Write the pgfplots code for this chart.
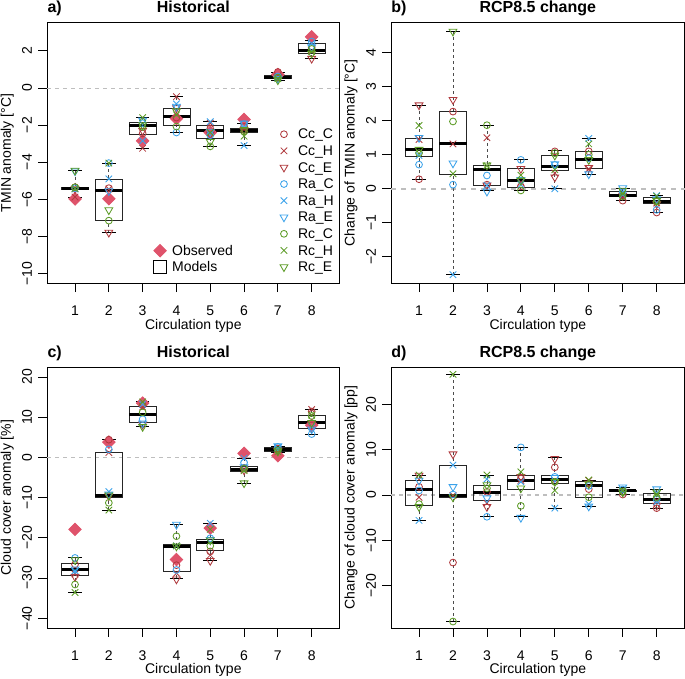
\documentclass[border=0pt]{standalone}
\usepackage{pgfplots}
\pgfplotsset{compat=1.18}
\usepgfplotslibrary{statistics}
\usepackage{fontspec}
\setmainfont{Liberation Sans}
\definecolor{ccol}{HTML}{B03A3E}
\definecolor{rcol}{HTML}{3BA2EA}
\definecolor{gcol}{HTML}{5C9B26}
\definecolor{obs}{HTML}{DF536B}
\definecolor{zl}{HTML}{BEBEBE}
\newcommand{\fs}{\fontsize{14}{16}\selectfont}
\newcommand{\tfs}{\fontsize{16}{19}\selectfont\bfseries}
\pgfplotsset{
 pts/.style={only marks, line width=0.85pt, legend image code/.code={\path[draw=none, fill=none] (0pt,-5pt) rectangle (17.07pt,5pt); \draw[##1] plot coordinates {(8.53pt,0pt)};}},
 sCcC/.style={pts, ccol, mark=o, mark size=3.4pt},
 sCcH/.style={pts, ccol, mark=x, mark size=4.6pt},
 sCcE/.style={pts, ccol, mark=triangle, mark size=4.5pt, mark options={rotate=180}},
 sRaC/.style={pts, rcol, mark=o, mark size=3.4pt},
 sRaH/.style={pts, rcol, mark=x, mark size=4.6pt},
 sRaE/.style={pts, rcol, mark=triangle, mark size=4.5pt, mark options={rotate=180}},
 sRcC/.style={pts, gcol, mark=o, mark size=3.4pt},
 sRcH/.style={pts, gcol, mark=x, mark size=4.6pt},
 sRcE/.style={pts, gcol, mark=triangle, mark size=4.5pt, mark options={rotate=180}},
 sObs/.style={pts, obs, mark=square*, mark size=4.4pt, mark options={rotate=45, fill=obs, draw=obs}},
 mybox/.style={black!85, line width=0.8pt, boxplot/draw direction=y,
   boxplot/box extend=0.8, boxplot/whisker extend=0.4,
   boxplot/every median/.style={black, line width=3pt},
   boxplot/draw/lower whisker/.code={%
     \draw[black!70, line width=0.8pt, dash pattern=on 3pt off 3pt] (boxplot box cs:\pgfplotsboxplotvalue{lower whisker},0.5) -- (boxplot box cs:\pgfplotsboxplotvalue{lower quartile},0.5);
     \draw[black, line width=0.8pt] (boxplot whisker cs:\pgfplotsboxplotvalue{lower whisker},0) -- (boxplot whisker cs:\pgfplotsboxplotvalue{lower whisker},1);},
   boxplot/draw/upper whisker/.code={%
     \draw[black!70, line width=0.8pt, dash pattern=on 3pt off 3pt] (boxplot box cs:\pgfplotsboxplotvalue{upper whisker},0.5) -- (boxplot box cs:\pgfplotsboxplotvalue{upper quartile},0.5);
     \draw[black, line width=0.8pt] (boxplot whisker cs:\pgfplotsboxplotvalue{upper whisker},0) -- (boxplot whisker cs:\pgfplotsboxplotvalue{upper whisker},1);},
 },
 panel/.style={scale only axis, height=260.6pt, anchor=south west,
   xmin=0.18, xmax=8.82, xtick={1,2,3,4,5,6,7,8}, xticklabels={1,2,3,4,5,6,7,8},
   axis line style={line width=0.8pt, black},
   every tick/.style={black, line width=0.8pt},
   tick align=outside, major tick length=9pt, xtick pos=bottom, ytick pos=left,
   tick label style={font=\fs}, label style={font=\fs},
   xlabel={Circulation type},
   xticklabel style={anchor=base, inner sep=0pt, yshift=-23.5pt},
   yticklabel style={xshift=-6.3pt, rotate=90, anchor=base, inner sep=0pt},
   xlabel style={at={(axis description cs:0.5,-0.163)}, anchor=center},
   ylabel style={at={(axis description cs:-0.137,0.5)}, anchor=center},
   every axis title/.style={at={(axis description cs:0.5,1)}, anchor=base, yshift=10.2pt, font=\tfs, inner sep=0pt},
   clip=false,
   legend cell align=left,
 },
 leg/.style={legend style={draw=none, fill=none, inner sep=0pt, outer sep=0pt, row sep=0pt,
   font=\fs, nodes={inner sep=0pt, text height=13pt, text depth=3.6pt},
   anchor=north west}},
}
\newcommand{\bx}[6]{\addplot[mybox, forget plot, boxplot prepared={draw position=#1, lower whisker=#2, lower quartile=#3, median=#4, upper quartile=#5, upper whisker=#6}] coordinates {};}
\newcommand{\tag}[1]{\node[anchor=base west, font=\tfs, inner sep=0pt] at ([yshift=10.2pt]axis description cs:0,1) {#1};}
\begin{document}
\begin{tikzpicture}
\useasboundingbox (0pt,0pt) rectangle (685pt,678pt);
% ---------------- a) ----------------
\begin{axis}[panel, at={(47.3pt,394.8pt)}, width=292.1pt,
  ymin=-10.52, ymax=3.52, ytick={-10,-8,-6,-4,-2,0,2}, yticklabels={−10,−8,−6,−4,−2,0,2},
  ylabel={TMIN anomaly [°C]}, title={Historical}, extra description/.code={\tag{a)}},
  leg, legend style={at={(rel axis cs:0.781,0.6035)}, /tikz/every odd column/.style={column sep=5.5pt}}]
\addplot[forget plot, zl, line width=0.8pt, dash pattern=on 4pt off 4pt] coordinates {(0.18,0) (8.82,0)};
\bx{1}{-5.88}{-5.47}{-5.41}{-5.35}{-4.45}
\bx{2}{-7.79}{-7.14}{-5.50}{-4.91}{-4.05}
\bx{3}{-3.26}{-2.50}{-2.03}{-1.87}{-1.58}
\bx{4}{-2.41}{-2.01}{-1.55}{-1.12}{-0.47}
\bx{5}{-3.17}{-2.70}{-2.30}{-2.01}{-1.78}
\bx{6}{-3.11}{-2.39}{-2.30}{-2.16}{-1.90}
\bx{7}{0.40}{0.50}{0.58}{0.66}{0.86}
\bx{8}{1.60}{1.85}{2.03}{2.38}{2.55}
\addplot[sObs, forget plot] coordinates {(1,-5.98) (2,-5.97) (3,-2.85) (4,-1.65) (5,-2.40) (6,-1.70) (7,0.72) (8,2.75)};
\addplot[sCcC] coordinates {(1,-5.35) (2,-5.40) (3,-2.45) (4,-1.60) (5,-2.20) (6,-2.10) (7,0.86) (8,2.20)};
\addplot[sCcH] coordinates {(1,-5.88) (2,-5.45) (3,-3.25) (4,-0.47) (5,-1.90) (6,-2.20) (7,0.65) (8,2.00)};
\addplot[sCcE] coordinates {(1,-5.45) (2,-7.79) (3,-2.30) (4,-1.08) (5,-2.50) (6,-2.30) (7,0.60) (8,1.58)};
\addplot[sRaC] coordinates {(1,-5.40) (2,-4.05) (3,-1.90) (4,-2.40) (5,-2.55) (6,-1.95) (7,0.62) (8,2.50)};
\addplot[sRaH] coordinates {(1,-5.45) (2,-4.90) (3,-2.85) (4,-0.86) (5,-1.82) (6,-3.10) (7,0.55) (8,2.40)};
\addplot[sRaE] coordinates {(1,-4.48) (2,-5.55) (3,-1.75) (4,-1.00) (5,-2.35) (6,-1.90) (7,0.50) (8,2.20)};
\addplot[sRcC] coordinates {(1,-5.35) (2,-7.15) (3,-2.10) (4,-2.08) (5,-3.15) (6,-2.35) (7,0.55) (8,2.10)};
\addplot[sRcH] coordinates {(1,-5.42) (2,-4.05) (3,-1.60) (4,-1.45) (5,-2.40) (6,-2.60) (7,0.50) (8,1.95)};
\addplot[sRcE] coordinates {(1,-4.45) (2,-6.58) (3,-2.00) (4,-1.25) (5,-2.90) (6,-2.25) (7,0.42) (8,1.85)};
\legend{Cc\_C,Cc\_H,Cc\_E,Ra\_C,Ra\_H,Ra\_E,Rc\_C,Rc\_H,Rc\_E}
\end{axis}
\begin{axis}[scale only axis, anchor=south west, at={(47.3pt,394.8pt)}, width=292.1pt, height=260.6pt,
  hide axis, xmin=0, xmax=1, ymin=0, ymax=1, legend cell align=left,
  leg, legend style={at={(rel axis cs:0.357,0.1566)}, /tikz/every odd column/.style={column sep=3.5pt}}]
\addlegendimage{sObs}
\addlegendentry{Observed}
\addlegendimage{pts, black, mark=square, mark size=6.5pt}
\addlegendentry{Models}
\end{axis}
% ---------------- b) ----------------
\begin{axis}[panel, at={(391.2pt,394.8pt)}, width=293.3pt,
  ymin=-2.78, ymax=4.89, ytick={-2,-1,0,1,2,3,4}, yticklabels={−2,−1,0,1,2,3,4},
  ylabel={Change of TMIN anomaly [°C]}, title={RCP8.5 change}, extra description/.code={\tag{b)}}]
\addplot[forget plot, zl, line width=2pt, dash pattern=on 5pt off 5pt] coordinates {(0.18,0) (8.82,0)};
\bx{1}{0.28}{0.96}{1.15}{1.48}{2.46}
\bx{2}{-2.53}{0.42}{1.32}{2.27}{4.63}
\bx{3}{-0.05}{0.11}{0.58}{0.70}{1.87}
\bx{4}{-0.05}{0.04}{0.24}{0.61}{0.85}
\bx{5}{0.00}{0.53}{0.66}{0.98}{1.12}
\bx{6}{0.43}{0.61}{0.87}{1.10}{1.48}
\bx{7}{-0.35}{-0.24}{-0.19}{-0.08}{0.02}
\bx{8}{-0.70}{-0.44}{-0.39}{-0.26}{-0.20}
\addplot[sCcC] coordinates {(1,0.28) (2,2.27) (3,0.12) (4,0.07) (5,1.10) (6,1.10) (7,-0.35) (8,-0.70)};
\addplot[sCcH] coordinates {(1,1.45) (2,1.32) (3,1.50) (4,0.19) (5,0.46) (6,0.58) (7,-0.25) (8,-0.42)};
\addplot[sCcE] coordinates {(1,2.46) (2,2.62) (3,0.10) (4,0.59) (5,0.34) (6,0.62) (7,-0.20) (8,-0.45)};
\addplot[sRaC] coordinates {(1,0.71) (2,0.12) (3,0.39) (4,0.85) (5,0.70) (6,0.90) (7,-0.10) (8,-0.62)};
\addplot[sRaH] coordinates {(1,0.98) (2,-2.53) (3,0.10) (4,0.12) (5,0.00) (6,1.48) (7,-0.18) (8,-0.20)};
\addplot[sRaE] coordinates {(1,1.50) (2,0.75) (3,-0.08) (4,0.26) (5,0.73) (6,0.43) (7,0.02) (8,-0.30)};
\addplot[sRcC] coordinates {(1,1.05) (2,1.98) (3,1.87) (4,-0.05) (5,1.05) (6,1.00) (7,-0.22) (8,-0.38)};
\addplot[sRcH] coordinates {(1,1.86) (2,0.44) (3,0.68) (4,0.40) (5,0.56) (6,1.32) (7,-0.15) (8,-0.22)};
\addplot[sRcE] coordinates {(1,1.15) (2,4.63) (3,0.69) (4,0.24) (5,0.98) (6,0.85) (7,-0.05) (8,-0.35)};
\end{axis}
% ---------------- c) ----------------
\begin{axis}[panel, at={(47.3pt,50.1pt)}, width=292.1pt,
  ymin=-42.4, ymax=22.4, ytick={-40,-30,-20,-10,0,10,20}, yticklabels={−40,−30,−20,−10,0,10,20},
  ylabel={Cloud cover anomaly [\%]}, title={Historical}, extra description/.code={\tag{c)}}]
\addplot[forget plot, zl, line width=0.8pt, dash pattern=on 4pt off 4pt] coordinates {(0.18,0) (8.82,0)};
\bx{1}{-33.6}{-29.4}{-28.0}{-26.4}{-24.9}
\bx{2}{-13.1}{-9.9}{-9.4}{1.2}{4.5}
\bx{3}{7.6}{8.6}{10.7}{12.8}{14.0}
\bx{4}{-30.0}{-28.3}{-22.1}{-21.7}{-16.7}
\bx{5}{-25.6}{-23.1}{-21.1}{-20.3}{-16.4}
\bx{6}{-6.4}{-3.4}{-2.9}{-2.3}{-0.2}
\bx{7}{1.2}{1.6}{2.0}{2.4}{2.8}
\bx{8}{5.8}{7.2}{8.7}{10.4}{11.9}
\addplot[sObs, forget plot] coordinates {(1,-17.9) (2,3.8) (3,13.5) (4,-25.4) (5,-17.6) (6,1.0) (7,0.4) (8,8.0)};
\addplot[sCcC] coordinates {(1,-26.6) (2,4.4) (3,13.0) (4,-26.8) (5,-23.4) (6,-2.6) (7,2.2) (8,11.4)};
\addplot[sCcH] coordinates {(1,-29.0) (2,1.2) (3,12.5) (4,-28.8) (5,-24.3) (6,-3.0) (7,2.0) (8,11.9)};
\addplot[sCcE] coordinates {(1,-29.7) (2,-9.6) (3,8.2) (4,-30.3) (5,-25.7) (6,-3.2) (7,1.7) (8,8.2)};
\addplot[sRaC] coordinates {(1,-25.0) (2,2.0) (3,9.5) (4,-28.0) (5,-20.1) (6,-1.3) (7,2.6) (8,5.8)};
\addplot[sRaH] coordinates {(1,-28.2) (2,-8.5) (3,13.2) (4,-22.0) (5,-16.4) (6,-0.2) (7,2.3) (8,7.6)};
\addplot[sRaE] coordinates {(1,-27.8) (2,-9.2) (3,8.5) (4,-16.7) (5,-20.5) (6,-2.4) (7,2.8) (8,7.0)};
\addplot[sRcC] coordinates {(1,-31.6) (2,-11.3) (3,11.2) (4,-19.6) (5,-22.0) (6,-2.8) (7,1.8) (8,10.3)};
\addplot[sRcH] coordinates {(1,-33.6) (2,-13.1) (3,13.8) (4,-22.0) (5,-17.9) (6,-3.3) (7,1.4) (8,10.5)};
\addplot[sRcE] coordinates {(1,-25.5) (2,-9.4) (3,7.6) (4,-22.1) (5,-20.6) (6,-6.4) (7,1.5) (8,8.6)};
\end{axis}
% ---------------- d) ----------------
\begin{axis}[panel, at={(391.2pt,50.1pt)}, width=293.3pt,
  ymin=-29.3, ymax=28.15, ytick={-20,-10,0,10,20}, yticklabels={−20,−10,0,10,20},
  ylabel={Change of cloud cover anomaly [pp]}, title={RCP8.5 change}, extra description/.code={\tag{d)}}]
\addplot[forget plot, zl, line width=1.2pt, dash pattern=on 4pt off 4pt] coordinates {(0.18,0) (8.82,0)};
\bx{1}{-5.6}{-2.2}{1.2}{3.2}{4.4}
\bx{2}{-27.9}{-0.55}{-0.1}{6.5}{26.6}
\bx{3}{-4.8}{-1.2}{0.6}{2.1}{4.4}
\bx{4}{-4.8}{1.3}{3.3}{4.4}{10.5}
\bx{5}{-2.9}{2.5}{3.5}{4.4}{8.3}
\bx{6}{-2.5}{-0.6}{2.0}{2.9}{3.3}
\bx{7}{0.1}{0.7}{0.9}{1.0}{1.7}
\bx{8}{-2.9}{-1.8}{-1.0}{0.3}{1.3}
\addplot[sCcC] coordinates {(1,1.8) (2,-14.9) (3,0.7) (4,3.6) (5,6.1) (6,1.3) (7,0.1) (8,-2.9)};
\addplot[sCcH] coordinates {(1,-0.5) (2,-0.1) (3,-1.8) (4,3.2) (5,3.2) (6,3.2) (7,0.8) (8,-1.2)};
\addplot[sCcE] coordinates {(1,4.3) (2,9.0) (3,-2.6) (4,4.0) (5,8.0) (6,2.6) (7,0.7) (8,-2.3)};
\addplot[sRaC] coordinates {(1,1.0) (2,0.1) (3,-4.8) (4,10.5) (5,4.0) (6,2.0) (7,1.2) (8,-1.0)};
\addplot[sRaH] coordinates {(1,-5.6) (2,6.6) (3,3.5) (4,2.9) (5,-2.9) (6,-2.0) (7,1.0) (8,-1.5)};
\addplot[sRaE] coordinates {(1,3.2) (2,1.8) (3,-0.7) (4,-5.0) (5,3.8) (6,-2.5) (7,1.7) (8,1.3)};
\addplot[sRcC] coordinates {(1,-2.0) (2,-27.9) (3,1.5) (4,-2.4) (5,2.9) (6,-0.5) (7,0.8) (8,-0.5)};
\addplot[sRcH] coordinates {(1,4.4) (2,26.6) (3,4.4) (4,5.1) (5,1.0) (6,3.3) (7,0.9) (8,0.2)};
\addplot[sRcE] coordinates {(1,-2.6) (2,-0.5) (3,2.2) (4,1.5) (5,2.9) (6,2.4) (7,0.6) (8,0.6)};
\end{axis}
\end{tikzpicture}
\end{document}
